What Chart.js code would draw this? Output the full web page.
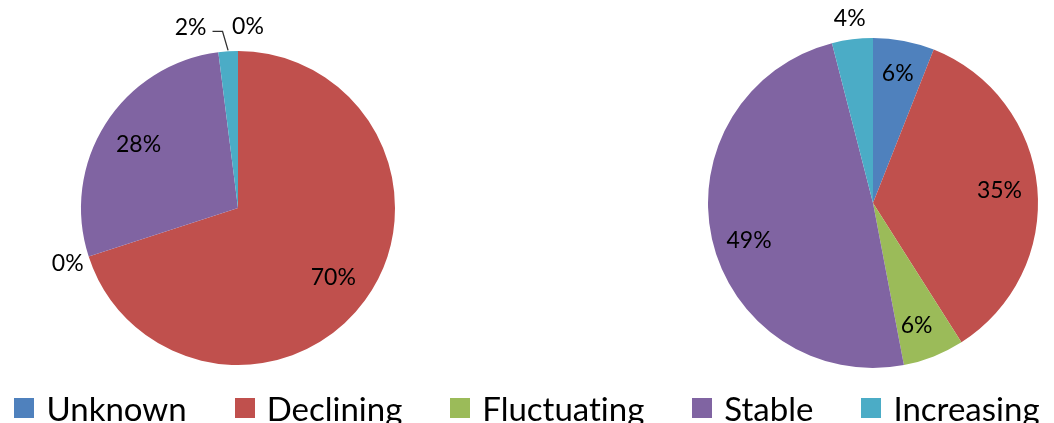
<!DOCTYPE html>
<html>
<head>
<meta charset="utf-8">
<script src="https://cdn.jsdelivr.net/npm/chart.js@4/dist/chart.umd.min.js"></script>
<style>
html, body { margin: 0; padding: 0; background: #fff; }
#wrap { position: relative; width: 1054px; height: 423px; overflow: hidden; }
#left { position: absolute; left: 0; top: 0; width: 476px; height: 416px; }
#right { position: absolute; left: 693px; top: 0; width: 360px; height: 406px; }
#legend { position: absolute; left: 0; top: 388px; width: 1054px; display: flex; justify-content: center;
	font-family: Lato, "Open Sans", sans-serif; font-size: 33px; color: #000; white-space: nowrap;
	font-variant-ligatures: none; font-feature-settings: "liga" 0; }
#legend span.item { display: flex; align-items: center; margin: 0 24px; }
#legend span.box { display: inline-block; width: 20px; height: 20px; margin-right: 12px; }
</style>
</head>
<body>
<div id="wrap">
	<div id="left"><canvas id="chartLeft"></canvas></div>
	<div id="right"><canvas id="chartRight"></canvas></div>
	<div id="legend"></div>
</div>
<script>
const categories = ["Unknown", "Declining", "Fluctuating", "Stable", "Increasing"];
const leftValues = [0, 70, 0, 28, 2];
const rightValues = [6, 35, 6, 49, 4];
const colors = ["#4F81BD", "#C0504D", "#9BBB59", "#8064A2", "#4BACC6"];

// percent labels, placed from each arc's own angle and radius
const pctLabels = {
	id: "pctLabels",
	afterDatasetsDraw(chart, args, opts) {
		const ctx = chart.ctx;
		const meta = chart.getDatasetMeta(0);
		const values = chart.data.datasets[0].data;
		const total = values.reduce((a, b) => a + b, 0);
		ctx.save();
		ctx.font = opts.font;
		ctx.fillStyle = "#000";
		ctx.textAlign = "center";
		ctx.textBaseline = "middle";
		meta.data.forEach((arc, i) => {
			const p = opts.place[i];
			const a = arc.getProps(["x", "y", "startAngle", "endAngle", "outerRadius"], true);
			const mid = (a.startAngle + a.endAngle) / 2;
			const d = p.inside ? a.outerRadius * p.inside : a.outerRadius + p.out;
			const lx = a.x + Math.cos(mid) * d + (p.dx || 0);
			const ly = a.y + Math.sin(mid) * d + (p.dy || 0);
			const txt = Math.round(values[i] / total * 100) + "%";
			ctx.fillText(txt, lx, ly);
			if (p.leader) {
				const tw = ctx.measureText(txt).width;
				const sx = lx + tw / 2 + 6, sy = ly + 4;
				ctx.beginPath();
				ctx.strokeStyle = "#303030";
				ctx.lineWidth = 1.3;
				ctx.moveTo(sx, sy);
				ctx.lineTo(sx + 10, sy);
				ctx.lineTo(a.x + Math.cos(mid) * (a.outerRadius + 1), a.y + Math.sin(mid) * (a.outerRadius + 1));
				ctx.stroke();
			}
		});
		ctx.restore();
	}
};

function makePie(id, values, pad, place) {
	return new Chart(document.getElementById(id), {
		type: "pie",
		data: {
			labels: categories,
			datasets: [{
				data: values,
				backgroundColor: colors,
				borderWidth: 0,
				hoverOffset: 0
			}]
		},
		options: {
			responsive: true,
			maintainAspectRatio: false,
			animation: false,
			layout: { padding: { top: pad, bottom: pad } },
			plugins: {
				legend: { display: false },
				tooltip: { enabled: false },
				pctLabels: { font: "23px Lato, 'Open Sans', sans-serif", place: place }
			}
		},
		plugins: [pctLabels]
	});
}

makePie("chartLeft", leftValues, 51, [
	{ out: 24, dx: 10 },
	{ inside: 0.75 },
	{ out: 22 },
	{ inside: 0.75 },
	{ out: 24, dx: -36, leader: true }
]);
makePie("chartRight", rightValues, 38, [
	{ inside: 0.8 },
	{ inside: 0.77 },
	{ inside: 0.8, dx: -5 },
	{ inside: 0.77, dy: 10 },
	{ out: 21 }
]);

const legend = document.getElementById("legend");
categories.forEach((c, i) => {
	const item = document.createElement("span");
	item.className = "item";
	const box = document.createElement("span");
	box.className = "box";
	box.style.background = colors[i];
	item.appendChild(box);
	item.appendChild(document.createTextNode(c));
	legend.appendChild(item);
});
</script>
</body>
</html>
